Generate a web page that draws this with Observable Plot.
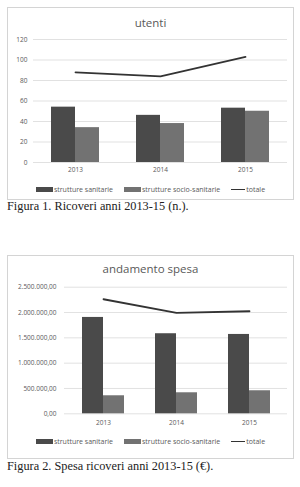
<!DOCTYPE html>
<html><head><meta charset="utf-8">
<script src="https://cdn.jsdelivr.net/npm/d3@7"></script>
<script src="https://cdn.jsdelivr.net/npm/@observablehq/plot@0.6"></script>
<style>
body{margin:0;background:#fff;width:300px;height:487px;position:relative;overflow:hidden}
.box{position:absolute;left:7px;width:285px;border:1px solid #d4d4d4;background:#fff;font-family:"Open Sans",sans-serif;color:#595959}
.title{position:absolute;left:0;right:0;text-align:center;font-size:11.5px}
.chart{position:absolute;left:0}
.legend{position:absolute;left:0;right:0;display:flex;justify-content:center;align-items:center;font-size:7px;gap:11px;color:#595959}
.legend span{display:flex;align-items:center}
.sw{display:inline-block;margin-right:1px}
.cap{position:absolute;left:7px;font-family:"Liberation Serif",serif;font-size:12.3px;color:#222;white-space:nowrap}
</style></head>
<body>
<div class="box" id="b1" style="top:7px;height:191px">
  <div class="title" style="top:7px">utenti</div>
  <div class="chart" id="c1" style="top:23px"></div>
  <div class="legend" id="l1" style="top:177px"></div>
</div>
<div class="cap" id="cap1" style="top:199px"></div>
<div class="box" id="b2" style="top:255px;height:202px">
  <div class="title" style="top:5px">andamento spesa</div>
  <div class="chart" id="c2" style="top:20px"></div>
  <div class="legend" id="l2" style="top:181px"></div>
</div>
<div class="cap" id="cap2" style="top:459px"></div>
<script>
const years = ["2013", "2014", "2015"];
const seriesNames = ["strutture sanitarie", "strutture socio-sanitarie", "totale"];
const seriesColors = ["#4a4a4a", "#727272", "#333333"];

const utentiSanitarie = [54, 46, 53];
const utentiSocio = [34, 38, 50];
const utentiTotale = [88, 84, 103];
const utentiTicks = [0, 20, 40, 60, 80, 100, 120];

const spesaSanitarie = [1903000, 1581000, 1567000];
const spesaSocio = [356000, 415000, 455000];
const spesaTotale = [2262000, 1993000, 2025000];
const spesaTicks = [0, 500000, 1000000, 1500000, 2000000, 2500000];

const captions = ["Figura 1. Ricoveri anni 2013-15 (n.).", "Figura 2. Spesa ricoveri anni 2013-15 (€)."];
const titles = ["utenti", "andamento spesa"];

const it = d3.formatLocale({decimal: ",", thousands: ".", grouping: [3], currency: ["", "€"]});
const fmtSpesa = it.format(",.2f");

function rows(a, b, c) {
  return years.map((y, i) => ({year: y, san: a[i], soc: b[i], tot: c[i]}));
}

function build(el, data, ticks, opts) {
  const plot = Plot.plot({
    width: 285,
    height: opts.height,
    marginLeft: opts.ml,
    marginRight: 6,
    marginTop: opts.mt,
    marginBottom: opts.mb,
    style: {fontFamily: "Open Sans, sans-serif", fontSize: "6.5px", color: "#595959", background: "transparent"},
    x: {domain: years, type: "band", paddingInner: opts.pi, paddingOuter: opts.po, label: null, tickSize: 0, tickPadding: opts.xpad},
    y: {domain: [0, ticks[ticks.length - 1]], ticks: ticks, tickFormat: opts.fmt, label: null, tickSize: 0, tickPadding: opts.ypad},
    marks: [
      Plot.gridY(ticks, {stroke: "#d9d9d9", strokeOpacity: 1, strokeWidth: 0.8}),
      Plot.barY(data, {x: "year", y: "san", fill: seriesColors[0], insetRight: opts.bw / 2}),
      Plot.barY(data, {x: "year", y: "soc", fill: seriesColors[1], insetLeft: opts.bw / 2}),
      Plot.line(data, {x: "year", y: "tot", stroke: seriesColors[2], strokeWidth: 1.8}),
      Plot.axisX({tickSize: 0, tickPadding: opts.xpad}),
      Plot.axisY(ticks, {tickSize: 0, tickPadding: opts.ypad, tickFormat: opts.fmt})
    ]
  });
  document.getElementById(el).appendChild(plot);
}

function legend(el) {
  const L = document.getElementById(el);
  seriesNames.forEach((n, i) => {
    const s = document.createElement("span");
    const sw = document.createElement("i");
    sw.className = "sw";
    sw.style.background = seriesColors[i];
    sw.style.width = (i === 2 ? 14 : 17) + "px";
    sw.style.height = (i === 2 ? 1.8 : 4.5) + "px";
    s.appendChild(sw);
    s.appendChild(document.createTextNode(n));
    L.appendChild(s);
  });
}

build("c1", rows(utentiSanitarie, utentiSocio, utentiTotale), utentiTicks,
  {height: 150, ml: 25, mt: 8, mb: 19, pi: 0.435, po: 0.21, bw: 48, xpad: 5, ypad: 6, fmt: d => d});
build("c2", rows(spesaSanitarie, spesaSocio, spesaTotale), spesaTicks,
  {height: 158, ml: 56, mt: 10.7, mb: 20.7, pi: 0.43, po: 0.23, bw: 42, xpad: 7, ypad: 8, fmt: fmtSpesa});
legend("l1");
legend("l2");
document.getElementById("cap1").textContent = captions[0];
document.getElementById("cap2").textContent = captions[1];
</script>
</body></html>
